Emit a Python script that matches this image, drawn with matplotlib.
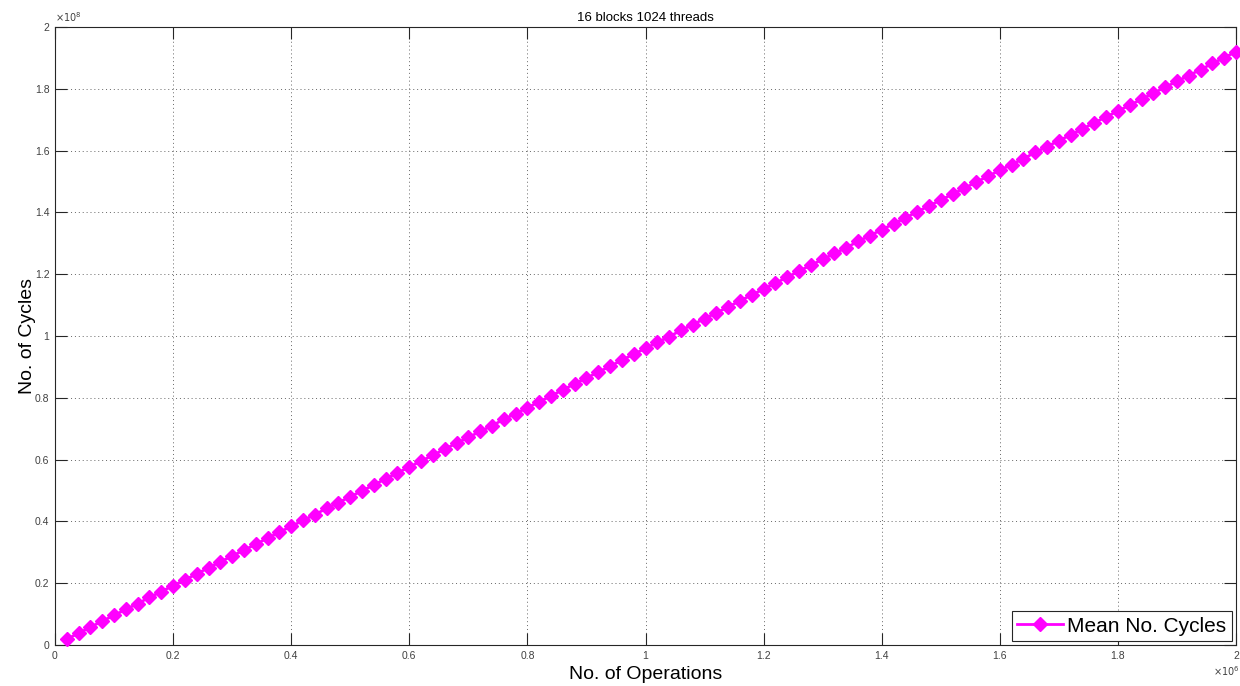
import matplotlib
matplotlib.use('Agg')
import matplotlib.pyplot as plt
from matplotlib.ticker import FuncFormatter

# no. of operations, in thousands
ops_k = [20, 40, 60, 80, 100, 120, 140, 160, 180, 200,
         220, 240, 260, 280, 300, 320, 340, 360, 380, 400,
         420, 440, 460, 480, 500, 520, 540, 560, 580, 600,
         620, 640, 660, 680, 700, 720, 740, 760, 780, 800,
         820, 840, 860, 880, 900, 920, 940, 960, 980, 1000,
         1020, 1040, 1060, 1080, 1100, 1120, 1140, 1160, 1180, 1200,
         1220, 1240, 1260, 1280, 1300, 1320, 1340, 1360, 1380, 1400,
         1420, 1440, 1460, 1480, 1500, 1520, 1540, 1560, 1580, 1600,
         1620, 1640, 1660, 1680, 1700, 1720, 1740, 1760, 1780, 1800,
         1820, 1840, 1860, 1880, 1900, 1920, 1940, 1960, 1980, 2000]

# mean no. of cycles, in millions
cycles_m = [1.9, 3.8, 5.8, 7.7, 9.6, 11.5, 13.4, 15.4, 17.3, 19.2,
            21.1, 23.0, 25.0, 26.9, 28.8, 30.7, 32.6, 34.6, 36.5, 38.4,
            40.3, 42.2, 44.2, 46.1, 48.0, 49.9, 51.8, 53.8, 55.7, 57.6,
            59.5, 61.4, 63.4, 65.3, 67.2, 69.1, 71.0, 73.0, 74.9, 76.8,
            78.7, 80.6, 82.6, 84.5, 86.4, 88.3, 90.2, 92.2, 94.1, 96.0,
            97.9, 99.8, 101.8, 103.7, 105.6, 107.5, 109.4, 111.4, 113.3, 115.2,
            117.1, 119.0, 121.0, 122.9, 124.8, 126.7, 128.6, 130.6, 132.5, 134.4,
            136.3, 138.2, 140.2, 142.1, 144.0, 145.9, 147.8, 149.8, 151.7, 153.6,
            155.5, 157.4, 159.4, 161.3, 163.2, 165.1, 167.0, 169.0, 170.9, 172.8,
            174.7, 176.6, 178.6, 180.5, 182.4, 184.3, 186.2, 188.2, 190.1, 192.0]

x_ticks = [0, 0.2, 0.4, 0.6, 0.8, 1.0, 1.2, 1.4, 1.6, 1.8, 2.0]  # x 1e6
y_ticks = [0, 0.2, 0.4, 0.6, 0.8, 1.0, 1.2, 1.4, 1.6, 1.8, 2.0]  # x 1e8

plt.rcParams['font.family'] = ['Liberation Sans', 'DejaVu Sans']

ops = [v * 1e3 for v in ops_k]
cycles = [v * 1e6 for v in cycles_m]

fig = plt.figure(figsize=(12.4, 6.86), dpi=100)
ax = fig.add_axes([55 / 1240, 41 / 686, 1181 / 1240, 618 / 686])

ax.plot(ops, cycles, color='#ff00ff', lw=2, marker='D', markersize=7,
        markeredgecolor='#ff00ff', label='Mean No. Cycles', clip_on=False, zorder=3)

ax.set_xlim(0, 2e6)
ax.set_ylim(0, 2e8)
ax.set_xticks([t * 1e6 for t in x_ticks])
ax.set_yticks([t * 1e8 for t in y_ticks])
ax.xaxis.set_major_formatter(FuncFormatter(lambda v, p: '%g' % (v / 1e6)))
ax.yaxis.set_major_formatter(FuncFormatter(lambda v, p: '%g' % (v / 1e8)))
ax.tick_params(direction='in', length=8.5, width=0.8, labelsize=7.5,
               top=True, right=True, colors='#262626', pad=4)
ax.tick_params(labelcolor='#404040')

ax.grid(True, color='#666666', linestyle=(0, (1, 3)), linewidth=0.7)
for s in ax.spines.values():
    s.set_color('#262626')
    s.set_linewidth(0.8)

ax.set_xlabel('No. of Operations', fontsize=14, labelpad=4)
ax.set_ylabel('No. of Cycles', fontsize=14, labelpad=-1)
ax.set_title('16 blocks 1024 threads', fontsize=9.5, pad=4)

ax.text(0.0, 1.005, r'$\times 10^8$', transform=ax.transAxes, fontsize=7,
        ha='left', va='bottom', color='#404040')
fig.text(1.0, 0.022, r'$\times 10^6$', fontsize=7, ha='right', va='center', color='#404040')

leg = ax.legend(loc='lower right', fontsize=15, frameon=True, fancybox=False,
                borderpad=0.25, handlelength=2.2, handletextpad=0.2,
                borderaxespad=0.2, framealpha=1)
leg.get_frame().set_edgecolor('#262626')
leg.get_frame().set_linewidth(0.8)

fig.savefig('out.png', dpi=100)
